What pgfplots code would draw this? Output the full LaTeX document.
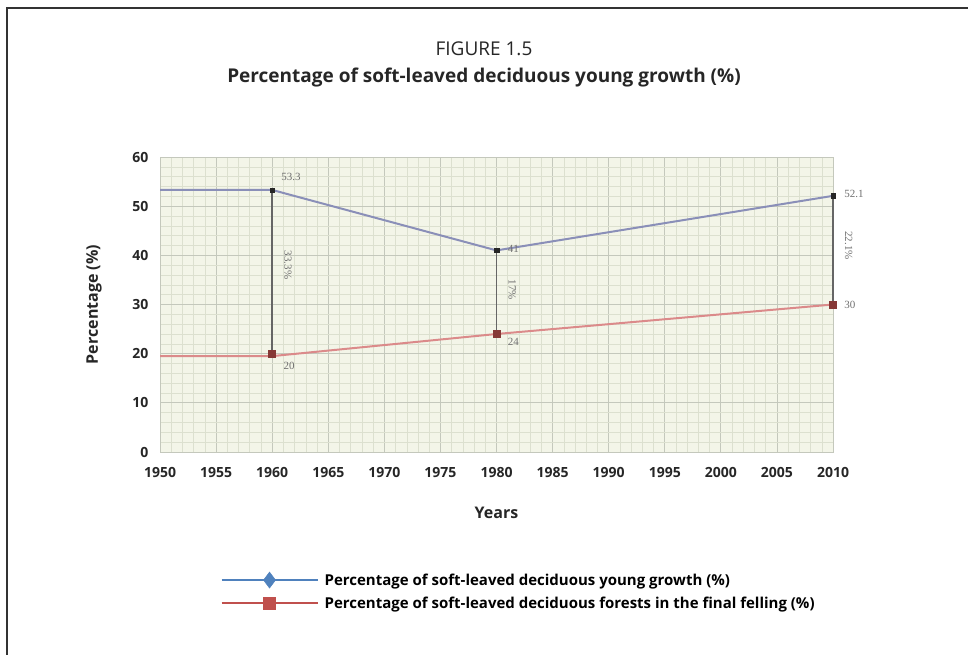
\documentclass[border=0pt]{standalone}
\usepackage{pgfplots}
\pgfplotsset{compat=1.18}
\usepackage{fontspec}
\setmainfont{Open Sans}
\newfontfamily\serif{Liberation Serif}
\definecolor{bgc}{HTML}{F3F5E8}
\definecolor{gridmin}{HTML}{DCE0CF}
\definecolor{gridmaj}{HTML}{C4C8BC}
\definecolor{bline}{HTML}{8A8FB8}
\definecolor{rline}{HTML}{DB8A8A}
\definecolor{legb}{HTML}{4F81BD}
\definecolor{legr}{HTML}{C0504D}
\definecolor{lbl}{HTML}{707070}
\begin{document}
\begin{tikzpicture}[x=1pt,y=1pt]
\path[use as bounding box] (0,0) rectangle (968,655);
\draw[line width=1.6pt,black!80] (7,0) -- (7,647) -- (968,647);
\node[font=\fontsize{19}{21}\selectfont, text=black!85] at (484,606) {FIGURE 1.5};
\node[font=\fontsize{19}{21}\selectfont\bfseries, text=black!85] at (484,577) {Percentage of soft-leaved deciduous young growth (\%)};
\begin{axis}[
  at={(160pt,203pt)}, anchor=south west,
  scale only axis, width=673pt, height=295pt,
  xmin=1950, xmax=2010, ymin=0, ymax=60,
  xtick={1950,1955,...,2010}, ytick={0,10,...,60},
  minor x tick num=4, minor y tick num=4,
  grid=both,
  major grid style={gridmaj, line width=0.8pt},
  minor grid style={gridmin, line width=0.5pt},
  axis background/.style={fill=bgc},
  axis line style={gridmaj},
  major tick length=0pt, minor tick length=0pt,
  /pgf/number format/assume math mode=true,
  /pgf/number format/1000 sep={},
  ticklabel style={font=\fontsize{14}{16}\selectfont\bfseries, text=black!85},
  xticklabel style={yshift=-12pt},
  yticklabel style={xshift=-8pt},
  xlabel={Years}, ylabel={Percentage (\%)},
  label style={font=\fontsize{16}{18}\selectfont\bfseries, text=black!85},
  xlabel style={yshift=-22pt},
  ylabel style={yshift=24pt},
  clip=false,
  legend style={at={(0.085,-0.398)}, anchor=north west, draw=none, fill=none,
    font=\fontsize{15}{18}\selectfont\bfseries, row sep=6pt,
    legend cell align=left, nodes={inner xsep=6pt}},
  legend image code/.code={%
    \draw[#1, mark=none] (0pt,0pt) -- (96pt,0pt);
    \path[#1, draw=none] plot coordinates {(48pt,0pt)};},
]
\addlegendimage{legb, line width=2.2pt, mark=diamond*, mark size=8pt, mark options={fill=legb, draw=legb, line width=0.5pt}}
\addlegendentry{Percentage of soft-leaved deciduous young growth (\%)}
\addlegendimage{legr, line width=2.2pt, mark=square*, mark size=6pt, mark options={fill=legr, draw=legr, line width=0.5pt}}
\addlegendentry{Percentage of soft-leaved deciduous forests in the final felling (\%)}
% difference lines
\addplot[forget plot, black!60, line width=1.5pt] coordinates {(1960,20) (1960,53.3)};
\addplot[forget plot, black!60, line width=1.5pt] coordinates {(1980,24) (1980,41)};
\addplot[forget plot, black!60, line width=1.5pt] coordinates {(2010,30) (2010,52.1)};
% series
\addplot[forget plot, bline, line width=2pt] coordinates {(1950,53.3) (1960,53.3) (1980,41) (2010,52.1)};
\addplot[forget plot, rline, line width=2pt] coordinates {(1950,19.5) (1960,19.5) (1980,24) (2010,30)};
\addplot[forget plot, only marks, mark=square*, mark size=2.2pt, black!85] coordinates {(1960,53.3) (1980,41) (2010,52.1)};
\addplot[forget plot, only marks, mark=square*, mark size=3.5pt, legr!70!black] coordinates {(1960,20) (1980,24) (2010,30)};
% labels
\node[font=\serif\fontsize{11}{12}\selectfont, text=lbl, anchor=west] at (axis cs:1960.5,56) {53.3};
\node[font=\serif\fontsize{11}{12}\selectfont, text=lbl, anchor=west] at (axis cs:1980.7,41.3) {41};
\node[font=\serif\fontsize{11}{12}\selectfont, text=lbl, anchor=west] at (axis cs:2010.7,52.5) {52.1};
\node[font=\serif\fontsize{11}{12}\selectfont, text=lbl, anchor=west] at (axis cs:1960.7,17.5) {20};
\node[font=\serif\fontsize{11}{12}\selectfont, text=lbl, anchor=west] at (axis cs:1980.7,22.5) {24};
\node[font=\serif\fontsize{11}{12}\selectfont, text=lbl, anchor=west] at (axis cs:2010.7,30) {30};
\node[font=\serif\fontsize{11}{12}\selectfont, text=lbl, rotate=-90] at (axis cs:1961.4,38) {33.3\%};
\node[font=\serif\fontsize{11}{12}\selectfont, text=lbl, rotate=-90] at (axis cs:1981.4,33) {17\%};
\node[font=\serif\fontsize{11}{12}\selectfont, text=lbl, rotate=-90] at (axis cs:2011.4,42) {22.1\%};
\end{axis}
\end{tikzpicture}
\end{document}
